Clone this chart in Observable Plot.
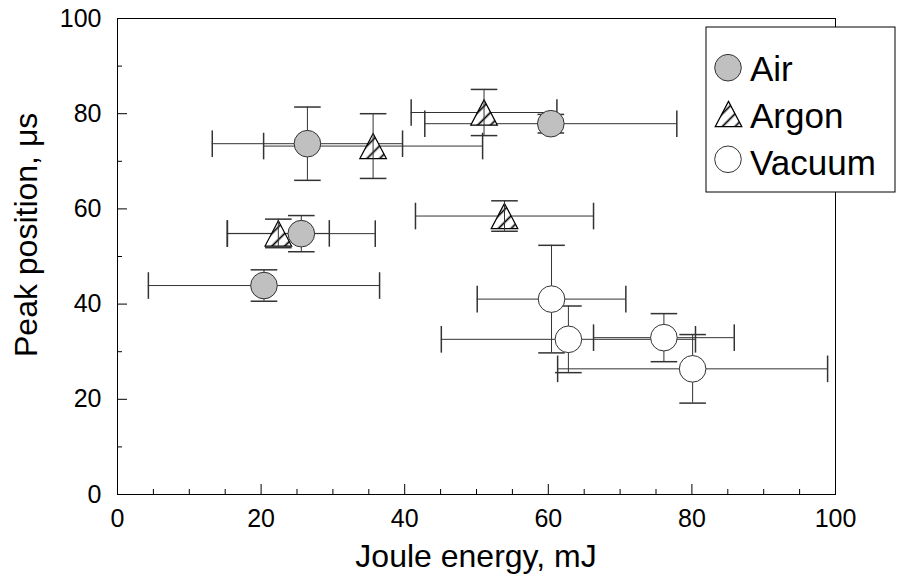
<!DOCTYPE html>
<html><head><meta charset="utf-8">
<script src="https://cdn.jsdelivr.net/npm/d3@7"></script>
<script src="https://cdn.jsdelivr.net/npm/@observablehq/plot@0.6"></script>
<style>
body{margin:0;background:#fff;}
#chart{width:911px;height:577px;}
</style>
</head><body><div id="chart"></div>
<script>
// ---- data ----
const seriesNames = ["Air", "Argon", "Vacuum"];

const airX    = [20.4, 25.6, 26.45, 60.35];
const airY    = [43.9, 54.8, 73.7, 77.9];
const airXErr = [16.1, 10.3, 13.25, 17.55];
const airYErr = [3.3, 3.8, 7.7, 1.95];

const argonX    = [22.4, 35.6, 51.05, 53.9];
const argonY    = [54.85, 73.2, 80.25, 58.5];
const argonXErr = [7.1, 15.25, 10.15, 12.4];
const argonYErr = [3.0, 6.8, 4.85, 3.2];

const vacuumX    = [60.45, 62.8, 76.1, 80.1];
const vacuumY    = [41.05, 32.6, 32.95, 26.4];
const vacuumXErr = [10.35, 17.7, 9.8, 18.8];
const vacuumYErr = [11.3, 7.0, 5.05, 7.2];

const xTicks = [0, 20, 40, 60, 80, 100];
const yTicks = [0, 20, 40, 60, 80, 100];
const xMinorTicks = [5, 10, 15, 25, 30, 35, 45, 50, 55, 65, 70, 75, 85, 90, 95];
const yMinorTicks = [10, 30, 50, 70, 90];

const xTitle = "Joule energy, mJ";
const yTitle = "Peak position, \u03bcs";

// ---- build tables ----
function table(name, xs, ys, xe, ye) {
  return xs.map((x, i) => ({series: name, x, y: ys[i], xe: xe[i], ye: ye[i]}));
}
const air = table("Air", airX, airY, airXErr, airYErr);
const argon = table("Argon", argonX, argonY, argonXErr, argonYErr);
const vacuum = table("Vacuum", vacuumX, vacuumY, vacuumXErr, vacuumYErr);
const all = [...air, ...argon, ...vacuum];
const round = [...air, ...vacuum];

// ---- layout / styles ----
const W = 911, H = 577;
const mL = 117, mR = 76, mT = 18, mB = 83;
const innerW = W - mL - mR, innerH = H - mT - mB;
const R = 13.3;
const barColor = "#333";
const font = "'Liberation Sans', Arial, Helvetica, sans-serif";

const triangle = {draw(ctx, size) { const r = Math.sqrt(size / Math.PI); const h = r * 0.95; ctx.moveTo(0, -h); ctx.lineTo(r, h); ctx.lineTo(-r, h); ctx.closePath(); }};
const vcap = {draw(ctx, size) { const r = Math.sqrt(size / Math.PI); ctx.moveTo(0, -r); ctx.lineTo(0, r); }};
const hcap = {draw(ctx, size) { const r = Math.sqrt(size / Math.PI); ctx.moveTo(-r, 0); ctx.lineTo(r, 0); }};

const chart = Plot.plot({
  width: W, height: H,
  marginLeft: mL, marginRight: mR, marginTop: mT, marginBottom: mB,
  style: {fontFamily: font, fontSize: "25px", color: "#000", background: "#fff", overflow: "visible"},
  x: {domain: [0, 100], axis: null},
  y: {domain: [0, 100], axis: null},
  marks: [
    Plot.frame({stroke: "#000", strokeWidth: 1}),
    // inner ticks
    Plot.tickX(xTicks, {x: d => d, insetTop: innerH - 10, stroke: "#000"}),
    Plot.tickX(xMinorTicks, {x: d => d, insetTop: innerH - 5, stroke: "#000"}),
    Plot.tickY(yTicks, {y: d => d, insetRight: innerW - 10, stroke: "#000"}),
    Plot.tickY(yMinorTicks, {y: d => d, insetRight: innerW - 5, stroke: "#000"}),
    // tick labels
    Plot.axisX({ticks: xTicks, tickSize: 0, tickPadding: 15, label: null, fontSize: 25, tickFormat: d => String(d)}),
    Plot.axisY({ticks: yTicks, tickSize: 0, tickPadding: 16, label: null, fontSize: 25, tickFormat: d => String(d)}),
    // horizontal error bars + caps
    Plot.ruleY(all, {y: "y", x1: d => d.x - d.xe, x2: d => d.x + d.xe, stroke: barColor, strokeWidth: 1}),
    Plot.dot(all, {x: d => d.x - d.xe, y: "y", symbol: vcap, r: R, stroke: barColor, fill: "none"}),
    Plot.dot(all, {x: d => d.x + d.xe, y: "y", symbol: vcap, r: R, stroke: barColor, fill: "none"}),
    // vertical error bars of round markers
    Plot.ruleX(round, {x: "x", y1: d => d.y - d.ye, y2: d => d.y + d.ye, stroke: barColor, strokeWidth: 1}),
    Plot.dot(round, {x: "x", y: d => d.y - d.ye, symbol: hcap, r: R, stroke: barColor, fill: "none"}),
    Plot.dot(round, {x: "x", y: d => d.y + d.ye, symbol: hcap, r: R, stroke: barColor, fill: "none"}),
    // Argon markers (hatched triangles)
    Plot.dot(argon, {x: "x", y: "y", symbol: triangle, r: R, fill: "url(#hatch)", stroke: "#000", strokeWidth: 1.2}),
    // Argon vertical bars on top
    Plot.ruleX(argon, {x: "x", y1: d => d.y - d.ye, y2: d => d.y + d.ye, stroke: barColor, strokeWidth: 1}),
    Plot.dot(argon, {x: "x", y: d => d.y - d.ye, symbol: hcap, r: R, stroke: barColor, fill: "none"}),
    Plot.dot(argon, {x: "x", y: d => d.y + d.ye, symbol: hcap, r: R, stroke: barColor, fill: "none"}),
    // Air and Vacuum markers
    Plot.dot(air, {x: "x", y: "y", r: R, fill: "#c0c0c0", stroke: "#333", strokeWidth: 1}),
    Plot.dot(vacuum, {x: "x", y: "y", r: R, fill: "#fff", stroke: "#333", strokeWidth: 1})
  ]
});

document.getElementById("chart").appendChild(chart);

const svg = d3.select(chart);

// hatch pattern
const defs = svg.insert("defs", ":first-child");
const pat = defs.append("pattern").attr("id", "hatch").attr("patternUnits", "userSpaceOnUse")
  .attr("width", 9).attr("height", 9).attr("patternTransform", "rotate(45)");
pat.append("rect").attr("width", 9).attr("height", 9).attr("fill", "#fff");
pat.append("line").attr("x1", 4.5).attr("y1", -1).attr("x2", 4.5).attr("y2", 10).attr("stroke", "#000").attr("stroke-width", 1.7);

// axis titles
svg.append("text").attr("x", mL + innerW / 2).attr("y", 567).attr("text-anchor", "middle")
  .attr("font-family", font).attr("font-size", 32).attr("fill", "#000").text(xTitle);
svg.append("text").attr("transform", "translate(37,357) rotate(-90)").attr("text-anchor", "start")
  .attr("font-family", font).attr("font-size", 32).attr("fill", "#000").text(yTitle);

// legend
const lg = svg.append("g").attr("class", "legend");
lg.append("rect").attr("x", 706).attr("y", 27).attr("width", 189).attr("height", 165)
  .attr("fill", "#fff").attr("stroke", "#000").attr("stroke-width", 1);
const items = [
  {name: seriesNames[0], cy: 67.7, base: 80.7, kind: "air"},
  {name: seriesNames[1], cy: 114, base: 128, kind: "argon"},
  {name: seriesNames[2], cy: 159.3, base: 175, kind: "vacuum"}
];
const triPath = d3.path(); triangle.draw(triPath, Math.PI * R * R);
for (const it of items) {
  if (it.kind === "argon") {
    lg.append("path").attr("d", triPath.toString()).attr("transform", `translate(728.5,${it.cy})`)
      .attr("fill", "url(#hatch)").attr("stroke", "#000").attr("stroke-width", 1.2);
  } else {
    lg.append("circle").attr("cx", 728).attr("cy", it.cy).attr("r", R)
      .attr("fill", it.kind === "air" ? "#c0c0c0" : "#fff").attr("stroke", "#333");
  }
  lg.append("text").attr("x", 750).attr("y", it.base).attr("text-anchor", "start").attr("font-size", 35)
    .attr("font-family", font).attr("fill", "#000").text(it.name);
}
</script>
</body></html>
